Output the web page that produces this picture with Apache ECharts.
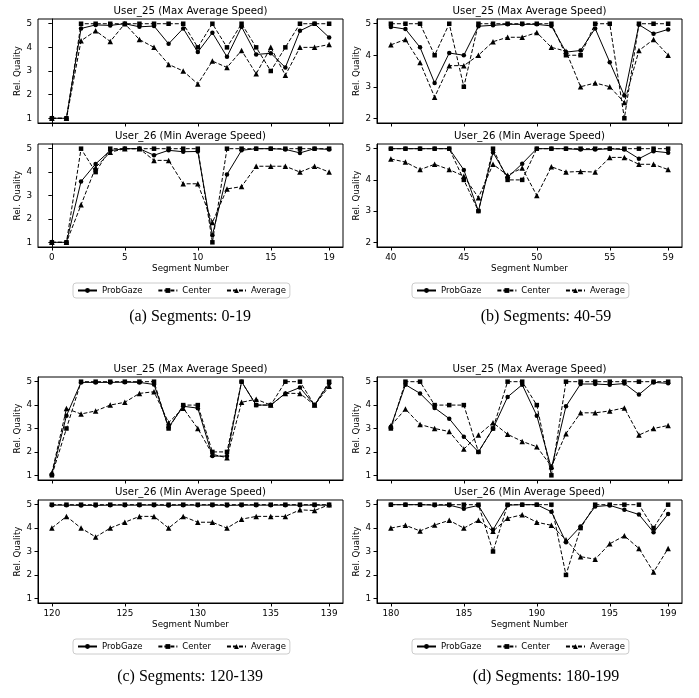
<!DOCTYPE html>
<html>
<head>
<meta charset="utf-8">
<script src="https://cdn.jsdelivr.net/npm/echarts@6/dist/echarts.min.js"></script>
<style>
  body { margin: 0; background: #fff; }
</style>
</head>
<body>
<div id="chart" style="width:699px;height:698px"></div>
<script>
// segments (x values) and x tick labels per panel
var segA = [0, 1, 2, 3, 4, 5, 6, 7, 8, 9, 10, 11, 12, 13, 14, 15, 16, 17, 18, 19];
var segB = [40, 41, 42, 43, 44, 45, 46, 47, 48, 49, 50, 51, 52, 53, 54, 55, 56, 57, 58, 59];
var segC = [120, 121, 122, 123, 124, 125, 126, 127, 128, 129, 130, 131, 132, 133, 134, 135, 136, 137, 138, 139];
var segD = [180, 181, 182, 183, 184, 185, 186, 187, 188, 189, 190, 191, 192, 193, 194, 195, 196, 197, 198, 199];
var ticksA = [0, 5, 10, 15, 19];
var ticksB = [40, 45, 50, 55, 59];
var ticksC = [120, 125, 130, 135, 139];
var ticksD = [180, 185, 190, 195, 199];
var yTicks = [1, 2, 3, 4, 5];
var yTicksB = [2, 3, 4, 5];

// (a) 0-19
var aTopProb = [1, 1, 4.8, 4.95, 4.93, 5, 4.87, 4.9, 4.15, 4.8, 3.8, 4.62, 3.6, 4.87, 3.7, 3.75, 3.15, 4.7, 5, 4.42];
var aTopCenter = [1, 1, 5, 5, 5, 5, 5, 5, 5, 5, 4, 5, 4, 5, 4, 3, 4, 5, 5, 5];
var aTopAvg = [1, 1, 4.28, 4.7, 4.25, 5, 4.33, 4.0, 3.28, 3.0, 2.45, 3.42, 3.15, 3.87, 2.88, 4.0, 2.82, 4.0, 4.0, 4.12];
var aBotProb = [1, 1, 3.6, 4.35, 4.92, 5, 5, 4.72, 4.93, 4.87, 4.88, 1.3, 3.9, 4.93, 5, 5, 4.97, 4.82, 5, 4.97];
var aBotCenter = [1, 1, 5, 4, 5, 5, 5, 5, 5, 5, 5, 1, 5, 5, 5, 5, 5, 5, 5, 5];
var aBotAvg = [1, 1, 2.6, 4.2, 4.85, 5, 5, 4.5, 4.5, 3.5, 3.5, 1.85, 3.28, 3.38, 4.25, 4.25, 4.25, 4.0, 4.25, 4.0];

// (b) 40-59
var bTopProb = [4.9, 4.83, 4.25, 3.12, 4.07, 4.0, 4.92, 4.95, 4.98, 4.98, 4.98, 4.93, 4.1, 4.15, 4.85, 3.78, 2.72, 4.97, 4.68, 4.82];
var bTopCenter = [5, 5, 5, 4, 5, 3, 5, 5, 5, 5, 5, 5, 4, 4, 5, 5, 2, 5, 5, 5];
var bTopAvg = [4.33, 4.5, 3.77, 2.67, 3.67, 3.67, 4.0, 4.43, 4.57, 4.57, 4.72, 4.25, 4.13, 3.0, 3.12, 3.0, 2.5, 4.15, 4.5, 4.0];
var bBotProb = [5, 5, 5, 5, 5, 4.32, 3.0, 4.88, 4.08, 4.52, 5, 5, 5, 4.97, 4.97, 5, 4.97, 4.68, 4.92, 4.87];
var bBotCenter = [5, 5, 5, 5, 5, 4, 3, 5, 4, 4, 5, 5, 5, 5, 5, 5, 5, 5, 5, 5];
var bBotAvg = [4.67, 4.57, 4.33, 4.5, 4.33, 4.12, 3.43, 4.5, 4.15, 4.38, 3.5, 4.42, 4.25, 4.27, 4.25, 4.72, 4.72, 4.5, 4.5, 4.33];

// (c) 120-139
var cTopProb = [1.05, 3.55, 4.97, 4.97, 4.97, 4.98, 4.97, 4.88, 3.05, 3.95, 3.87, 1.82, 1.82, 5, 4.0, 4.0, 4.5, 4.75, 4.0, 4.92];
var cTopCenter = [1, 3, 5, 5, 5, 5, 5, 5, 3, 4, 4, 2, 2, 5, 4, 4, 5, 5, 4, 5];
var cTopAvg = [1.1, 3.85, 3.62, 3.75, 4.0, 4.12, 4.5, 4.57, 3.25, 3.87, 3.0, 1.9, 1.75, 4.12, 4.25, 4.0, 4.5, 4.5, 4.0, 4.8];
var cBotProb = [4.98, 4.98, 4.97, 4.97, 4.98, 4.98, 4.98, 4.98, 4.97, 4.98, 4.98, 4.98, 4.97, 4.98, 4.98, 4.98, 4.98, 4.98, 4.98, 4.98];
var cBotCenter = [5, 5, 5, 5, 5, 5, 5, 5, 5, 5, 5, 5, 5, 5, 5, 5, 5, 5, 5, 5];
var cBotAvg = [4.0, 4.5, 4.0, 3.62, 4.0, 4.25, 4.5, 4.5, 4.0, 4.5, 4.25, 4.25, 4.0, 4.38, 4.5, 4.5, 4.5, 4.78, 4.75, 5.0];

// (d) 180-199
var dTopProb = [3.08, 4.87, 4.5, 3.88, 3.42, 2.65, 2.0, 3.0, 4.35, 4.87, 3.55, 1.3, 3.95, 4.9, 4.9, 4.87, 4.92, 4.45, 4.97, 4.93];
var dTopCenter = [3, 5, 5, 4, 4, 4, 2, 3, 5, 5, 4, 1, 5, 5, 5, 5, 5, 5, 5, 5];
var dTopAvg = [3.12, 3.83, 3.17, 3.0, 2.87, 2.12, 2.72, 3.25, 2.75, 2.45, 2.22, 1.38, 2.78, 3.67, 3.67, 3.75, 3.88, 2.72, 3.0, 3.13];
var dBotProb = [5, 5, 5, 4.98, 4.98, 4.83, 4.97, 3.93, 4.98, 5, 5, 4.7, 3.4, 4.07, 4.92, 4.97, 4.78, 4.58, 3.82, 4.6];
var dBotCenter = [5, 5, 5, 5, 5, 5, 5, 3, 5, 5, 5, 5, 2, 4, 5, 5, 5, 5, 4, 5];
var dBotAvg = [4.0, 4.12, 3.88, 4.13, 4.33, 4.0, 4.33, 3.87, 4.42, 4.57, 4.25, 4.12, 3.5, 2.78, 2.67, 3.33, 3.67, 3.13, 2.12, 3.13];

var seriesNames = ['ProbGaze', 'Center', 'Average'];
var captions = ['(a) Segments: 0-19', '(b) Segments: 40-59', '(c) Segments: 120-139', '(d) Segments: 180-199'];
var titleTop = 'User_25 (Max Average Speed)';
var titleBot = 'User_26 (Min Average Speed)';

var FONT = 'DejaVu Sans';

// one entry per subplot
var panels = [
  { seg: segA, ticks: ticksA, yt: yTicks, ymin: 0.8, ymax: 5.2, left: 38, top: 19, h: 104, bottom: false, data: [aTopProb, aTopCenter, aTopAvg] },
  { seg: segA, ticks: ticksA, yt: yTicks, ymin: 0.8, ymax: 5.2, left: 38, top: 144, h: 103, bottom: true, data: [aBotProb, aBotCenter, aBotAvg] },
  { seg: segB, ticks: ticksB, yt: yTicksB, ymin: 1.85, ymax: 5.15, left: 377, top: 19, h: 104, bottom: false, data: [bTopProb, bTopCenter, bTopAvg] },
  { seg: segB, ticks: ticksB, yt: yTicksB, ymin: 1.85, ymax: 5.15, left: 377, top: 144, h: 103, bottom: true, data: [bBotProb, bBotCenter, bBotAvg] },
  { seg: segC, ticks: ticksC, yt: yTicks, ymin: 0.8, ymax: 5.2, left: 38, top: 377, h: 103, bottom: false, data: [cTopProb, cTopCenter, cTopAvg] },
  { seg: segC, ticks: ticksC, yt: yTicks, ymin: 0.8, ymax: 5.2, left: 38, top: 500, h: 103, bottom: true, data: [cBotProb, cBotCenter, cBotAvg] },
  { seg: segD, ticks: ticksD, yt: yTicks, ymin: 0.8, ymax: 5.2, left: 377, top: 377, h: 103, bottom: false, data: [dTopProb, dTopCenter, dTopAvg] },
  { seg: segD, ticks: ticksD, yt: yTicks, ymin: 0.8, ymax: 5.2, left: 377, top: 500, h: 103, bottom: true, data: [dBotProb, dBotCenter, dBotAvg] }
];

var symbols = ['circle', 'rect', 'triangle'];
var symbolSizes = [4.5, 4.5, 5.5];
var lineTypes = ['solid', [4, 2], [4, 2]];

var grids = [], xAxes = [], yAxes = [], series = [], graphics = [], legends = [];

panels.forEach(function (p, i) {
  grids.push({ left: p.left, top: p.top, width: 305, height: p.h, show: true, borderColor: '#000', borderWidth: 1, backgroundColor: 'transparent' });
  var x0 = p.seg[0], x1 = p.seg[p.seg.length - 1];
  var pad = (x1 - x0) * 0.05;
  xAxes.push({
    type: 'value', gridIndex: i, min: x0 - pad, max: x1 + pad,
    splitLine: { show: false },
    axisLine: { show: true, onZero: false, lineStyle: { color: '#000', width: 1 } },
    axisTick: { show: true, length: 3.5, customValues: p.ticks, lineStyle: { color: '#000' } },
    axisLabel: { show: p.bottom, customValues: p.ticks, margin: 6, color: '#000', fontFamily: FONT, fontSize: 8.8 },
    name: p.bottom ? 'Segment Number' : '', nameLocation: 'middle', nameGap: 17,
    nameTextStyle: { color: '#000', fontFamily: FONT, fontSize: 8.7 }
  });
  yAxes.push({
    type: 'value', gridIndex: i, min: p.ymin, max: p.ymax,
    splitLine: { show: false },
    axisLine: { show: true, lineStyle: { color: '#000', width: 1 } },
    axisTick: { show: true, length: 3.5, customValues: p.yt, lineStyle: { color: '#000' } },
    axisLabel: { customValues: p.yt, margin: 6, color: '#000', fontFamily: FONT, fontSize: 8.8 },
    name: 'Rel. Quality', nameLocation: 'middle', nameGap: 15,
    nameTextStyle: { color: '#000', fontFamily: FONT, fontSize: 8.7 }
  });
  for (var k = 0; k < 3; k++) {
    series.push({
      name: seriesNames[k],
      type: 'line',
      xAxisIndex: i, yAxisIndex: i,
      data: p.seg.map(function (s, j) { return [s, p.data[k][j]]; }),
      symbol: symbols[k],
      symbolSize: symbolSizes[k],
      showAllSymbol: true,
      animation: false,
      color: '#000',
      itemStyle: { color: '#000' },
      lineStyle: { color: '#000', width: 1, type: lineTypes[k] },
      z: 2 + k
    });
  }
  // subplot title, centred over the plot area
  graphics.push({
    type: 'text', x: p.left + 152.5, y: p.top - 8,
    style: { text: p.bottom ? titleBot : titleTop, align: 'center', verticalAlign: 'middle', fill: '#000', font: '10.2px "' + FONT + '"' }
  });
});

var capPos = [[190, 317], [546, 317], [190, 677], [546, 677]];
captions.forEach(function (c, i) {
  graphics.push({
    type: 'text', x: capPos[i][0], y: capPos[i][1],
    style: { text: c, align: 'center', verticalAlign: 'middle', fill: '#000', font: '16px "Liberation Serif"' }
  });
});

var legendPos = [[73, 283], [412, 283], [73, 639], [412, 639]];
legendPos.forEach(function (lp) {
  legends.push({
    data: seriesNames, left: lp[0], top: lp[1],
    orient: 'horizontal', itemGap: 15, itemWidth: 19, itemHeight: 6,
    padding: [3, 4], borderColor: '#cccccc', borderWidth: 1, borderRadius: 3,
    textStyle: { color: '#000', fontFamily: FONT, fontSize: 8.5 }
  });
});

var chart = echarts.init(document.getElementById('chart'), null, { renderer: 'canvas' });
chart.setOption({
  backgroundColor: '#fff',
  animation: false,
  legend: legends,
  grid: grids,
  xAxis: xAxes,
  yAxis: yAxes,
  series: series,
  graphic: graphics
});
</script>
</body>
</html>
